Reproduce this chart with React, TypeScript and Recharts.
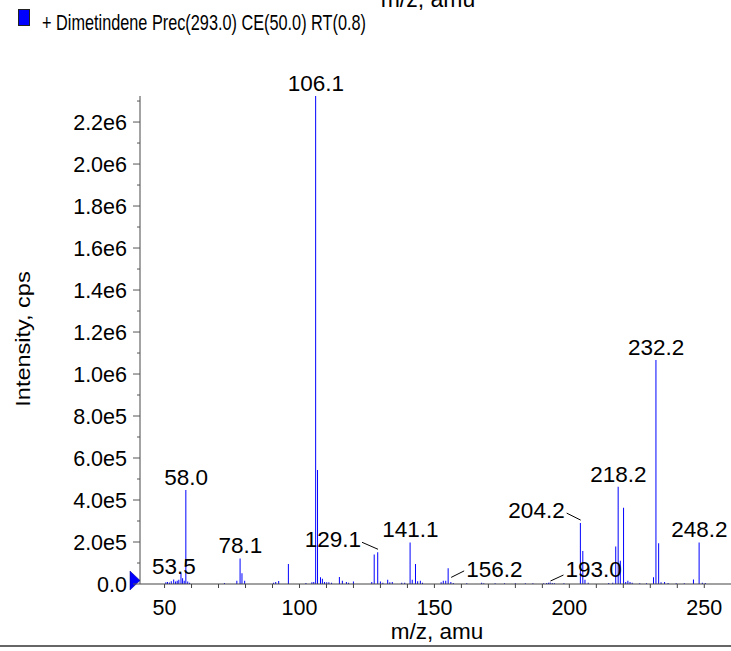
import React from 'react';
import { ComposedChart, Bar, Scatter, XAxis, YAxis, ReferenceDot } from 'recharts';

// peak list (m/z, intensity in cps)
const mzValues = [
  50.6, 51.2, 51.9, 52.6, 53.5, 54.2, 54.8, 55.4, 56.2, 56.8, 57.4, 58.0, 58.7, 59.4,
  72.3, 76.9, 78.1, 78.8, 79.8, 90.5, 91.3, 92.4, 96.0, 102.5, 104.7, 105.4,
  106.1, 106.8, 107.9, 108.6, 109.4, 110.2, 111.0, 112.0, 114.9, 116.0, 117.5, 118.3, 120.1,
  126.9, 127.8, 129.1, 130.1, 131.0, 132.8, 133.6, 134.5, 138.0, 139.1,
  141.1, 141.9, 143.1, 143.9, 144.9, 145.7, 152.6, 153.4, 154.3, 155.2, 156.2, 157.1,
  162.1, 167.6, 168.4, 172.6, 176.1, 180.1, 183.8, 186.6, 190.6, 191.7, 192.4, 193.0, 193.8, 194.6, 198.1,
  204.2, 205.1, 205.9, 207.1, 214.7, 216.2, 217.3, 218.2, 219.0, 220.2, 221.0, 221.8, 222.6, 223.4,
  226.2, 228.7, 231.3, 232.2, 233.2, 234.1, 235.4, 236.7, 239.7, 242.7, 246.1, 248.2, 249.4, 250.5,
];
const intensities = [
  8000, 10000, 7000, 13000, 22000, 12000, 15000, 20000, 50000, 27000, 15000, 448000, 12000, 6000,
  5000, 15000, 122000, 51000, 15000, 6000, 10000, 14000, 95000, 5000, 8000, 10000,
  2324000, 543000, 32000, 25000, 10000, 8000, 8000, 6000, 33000, 15000, 10000, 6000, 12000,
  10000, 141000, 151000, 12000, 6000, 20000, 8000, 10000, 6000, 6000,
  198000, 20000, 95000, 13000, 15000, 6000, 8000, 15000, 15000, 75000, 10000, 5000,
  4000, 6000, 4000, 4000, 3000, 3000, 4000, 3000, 3000, 5000, 6000, 7000, 5000, 4000, 3000,
  290000, 157000, 20000, 6000, 5000, 6000, 178000, 463000, 111000, 363000, 10000, 15000, 10000, 6000,
  4000, 4000, 32000, 1067000, 194000, 8000, 10000, 5000, 4000, 4000, 22000, 198000, 6000, 5000,
];

const peakLabels = ['53.5', '58.0', '78.1', '106.1', '129.1', '141.1', '156.2', '193.0', '204.2', '218.2', '232.2', '248.2'];

const xMajorTicks = [50, 100, 150, 200, 250];
const xTicks = [50, 60, 70, 80, 90, 100, 110, 120, 130, 140, 150, 160, 170, 180, 190, 200, 210, 220, 230, 240, 250];
const yTicks = [0, 1e5, 2e5, 3e5, 4e5, 5e5, 6e5, 7e5, 8e5, 9e5, 1e6, 1.1e6, 1.2e6, 1.3e6, 1.4e6, 1.5e6, 1.6e6, 1.7e6, 1.8e6, 1.9e6, 2e6, 2.1e6, 2.2e6, 2.3e6];
const yTickLabels = ['0.0', '2.0e5', '4.0e5', '6.0e5', '8.0e5', '1.0e6', '1.2e6', '1.4e6', '1.6e6', '1.8e6', '2.0e6', '2.2e6'];

const peaks = mzValues.map((mz, i) => ({ mz, intensity: intensities[i] }));
const labelled = peakLabels.map(t => {
  const mz = parseFloat(t);
  const p = peaks.find(d => Math.abs(d.mz - mz) < 0.01);
  return { mz, intensity: p ? p.intensity : 0, label: t };
});

const FONT = '"Liberation Sans", Arial, Helvetica, sans-serif';
const BLUE = '#0000ff';

// leader-line placements for the crowded labels
const leaders: Record<string, { line: number[]; tx: number; ty: number; anchor: 'start' | 'end' }> = {
  '129.1': { line: [0, -3, -16, -10], tx: -17, ty: -5.5, anchor: 'end' },
  '204.2': { line: [0, -3, -14, -10], tx: -16, ty: -5, anchor: 'end' },
  '156.2': { line: [0, -4.5, 13, -11], tx: 15, ty: -5, anchor: 'start' },
  '193.0': { line: [0, -1.5, 13, -7.5], tx: 15, ty: -6, anchor: 'start' },
};

const PeakLabel = (props: any) => {
  const { cx, cy, payload } = props;
  const l = leaders[payload.label];
  if (l) {
    return (
      <g>
        <line x1={cx + l.line[0]} y1={cy + l.line[1]} x2={cx + l.line[2]} y2={cy + l.line[3]} stroke="#000" strokeWidth={1} />
        <text x={cx + l.tx} y={cy + l.ty} textAnchor={l.anchor} fontSize={22.5} fontFamily={FONT} fill="#000">{payload.label}</text>
      </g>
    );
  }
  return (
    <text x={cx} y={cy - 5} textAnchor="middle" fontSize={22.5} fontFamily={FONT} fill="#000">{payload.label}</text>
  );
};

const XTick = (props: any) => {
  const { x, y, payload } = props;
  const major = xMajorTicks.includes(payload.value);
  return (
    <g>
      <line x1={x} x2={x} y1={y} y2={y + 4} stroke="#444" strokeWidth={1} />
      {major && (
        <text x={x} y={y + 31} textAnchor="middle" fontSize={21.5} fontFamily={FONT} fill="#000">{payload.value}</text>
      )}
    </g>
  );
};

const YTick = (props: any) => {
  const { x, y, payload } = props;
  const i = yTicks.indexOf(payload.value);
  const major = i % 2 === 0;
  return (
    <g>
      <line x1={x} x2={x - (major ? 7 : 3)} y1={y} y2={y} stroke="#555" strokeWidth={1} />
      {major && (
        <text x={x - 13} y={y} dy="0.36em" textAnchor="end" fontSize={21.5} fontFamily={FONT} fill="#000">{yTickLabels[i / 2]}</text>
      )}
    </g>
  );
};

const Marker = (props: any) => {
  const { cx, cy } = props;
  return <path d={`M${cx - 10},${cy - 13} L${cx},${cy - 3.5} L${cx - 10},${cy + 6} Z`} fill={BLUE} stroke="#00008a" strokeWidth={0.5} />;
};

export default function App() {
  return (
    <div style={{ position: 'absolute', left: 0, top: 0, width: 731, height: 651, background: '#fff', overflow: 'hidden' }}>
      <ComposedChart width={731} height={651} data={peaks} margin={{ top: 96, right: 0, bottom: 66, left: 139 }}>
        <XAxis
          dataKey="mz"
          type="number"
          domain={[40.9, 259.9]}
          ticks={xTicks}
          interval={0}
          height={1}
          tickSize={0}
          tickMargin={0}
          tick={<XTick />}
          axisLine={{ stroke: '#444', strokeWidth: 1.2 }}
        />
        <YAxis
          type="number"
          domain={[0, 2324000]}
          ticks={yTicks}
          interval={0}
          width={1}
          tickSize={0}
          tickMargin={0}
          tick={<YTick />}
          axisLine={{ stroke: '#666', strokeWidth: 1.2 }}
        />
        <Bar dataKey="intensity" fill={BLUE} barSize={1} isAnimationActive={false} />
        <Scatter data={labelled} dataKey="intensity" shape={PeakLabel} isAnimationActive={false} />
        <ReferenceDot x={40.9} y={0} shape={Marker} ifOverflow="visible" />
      </ComposedChart>
      <svg width={731} height={651} style={{ position: 'absolute', left: 0, top: 0, pointerEvents: 'none' }}>
        <text x={428} y={7} textAnchor="middle" fontSize={23} fontFamily={FONT} fill="#000">m/z, amu</text>
        <rect x={18.5} y={9.5} width={11} height={16} fill={BLUE} stroke="#222" strokeWidth={1} />
        <text transform="translate(42,30) scale(0.74,1)" fontSize={22} fontFamily={FONT} fill="#000">+ Dimetindene Prec(293.0) CE(50.0) RT(0.8)</text>
        <text transform="translate(30,339) rotate(-90) scale(1,0.85)" textAnchor="middle" fontSize={23.5} fontFamily={FONT} fill="#000">Intensity, cps</text>
        <text x={437} y={639} textAnchor="middle" fontSize={22.5} fontFamily={FONT} fill="#000">m/z, amu</text>
        <line x1={0} x2={731} y1={646} y2={646} stroke="#333" strokeWidth={1.5} />
      </svg>
    </div>
  );
}
